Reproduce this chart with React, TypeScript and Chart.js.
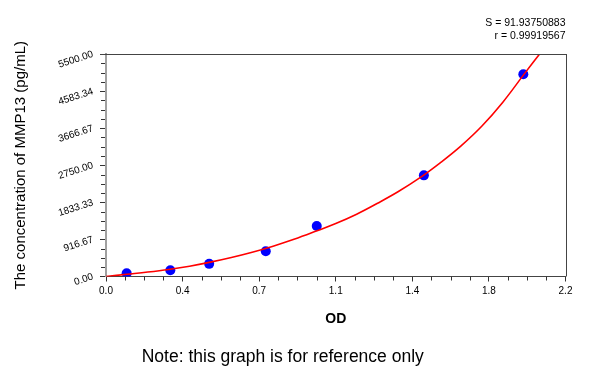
import React, { useEffect, useRef } from "react";
import { Chart, registerables } from "chart.js";

Chart.register(...registerables);

// Standard points (OD vs concentration)
const pointOD = [0.099, 0.308, 0.494, 0.765, 1.009, 1.522, 1.998];
const pointConc = [78.13, 156.25, 312.5, 625, 1250, 2500, 5000];

// Fitted curve
const curveOD = [0, 0.1, 0.2, 0.3, 0.4, 0.5, 0.6, 0.7, 0.8, 0.9, 1.0, 1.1, 1.2, 1.3, 1.4, 1.5, 1.6, 1.7, 1.8, 1.9, 2.0, 2.076];
const curveConc = [0, 55, 110, 175, 255, 355, 470, 600, 750, 920, 1110, 1310, 1540, 1810, 2100, 2430, 2810, 3230, 3720, 4310, 4990, 5500];

// Axis ticks
const xTickValues = [0, 0.36667, 0.73333, 1.1, 1.46667, 1.83333, 2.2];
const xTickLabels = ["0.0", "0.4", "0.7", "1.1", "1.4", "1.8", "2.2"];
const yTickValues = [0, 916.67, 1833.33, 2750, 3666.67, 4583.34, 5500];
const yTickLabels = ["0.00", "916.67", "1833.33", "2750.00", "3666.67", "4583.34", "5500.00"];

const statLines = ["S = 91.93750883", "r = 0.99919567"];
const xTitle = "OD";
const yTitle = "The concentration of MMP13 (pg/mL)";
const noteText = "Note: this graph is for reference only";

const FONT = '"Liberation Sans", Arial, Helvetica, sans-serif';

const framePlugin = {
  id: "frameMinor",
  afterDraw(chart: any) {
    const ctx = chart.ctx;
    const { left, right, top, bottom } = chart.chartArea;
    const xs = chart.scales.x;
    const ys = chart.scales.y;
    ctx.save();
    ctx.strokeStyle = "#444";
    ctx.lineWidth = 1;
    ctx.beginPath();
    ctx.moveTo(left - 6, Math.round(top) + 0.5);
    ctx.lineTo(right + 0.5, Math.round(top) + 0.5);
    ctx.moveTo(Math.round(right) + 0.5, top);
    ctx.lineTo(Math.round(right) + 0.5, bottom);
    ctx.stroke();
    ctx.strokeStyle = "#333";
    ctx.beginPath();
    for (let i = 0; i < yTickValues.length - 1; i++) {
      const a = yTickValues[i];
      const b = yTickValues[i + 1];
      for (let k = 1; k < 4; k++) {
        const py = Math.round(ys.getPixelForValue(a + ((b - a) * k) / 4)) + 0.5;
        ctx.moveTo(left - 5, py);
        ctx.lineTo(left - 1, py);
      }
    }
    for (let i = 0; i < xTickValues.length - 1; i++) {
      const a = xTickValues[i];
      const b = xTickValues[i + 1];
      for (let k = 1; k < 4; k++) {
        const px = Math.round(xs.getPixelForValue(a + ((b - a) * k) / 4)) + 0.5;
        ctx.moveTo(px, bottom);
        ctx.lineTo(px, bottom + 4);
      }
    }
    ctx.stroke();
    ctx.restore();
  },
};

export default function App() {
  const ref = useRef<HTMLCanvasElement | null>(null);

  useEffect(() => {
    if (!ref.current) return;
    Chart.defaults.font.family = FONT;
    Chart.defaults.color = "#000";
    const chart = new Chart(ref.current, {
      type: "scatter",
      data: {
        datasets: [
          {
            label: "curve",
            data: curveOD.map((x, i) => ({ x, y: curveConc[i] })),
            showLine: true,
            borderColor: "#ff0000",
            borderWidth: 1.6,
            pointRadius: 0,
            tension: 0.4,
            clip: 0,
          } as any,
          {
            label: "standards",
            data: pointOD.map((x, i) => ({ x, y: pointConc[i] })),
            backgroundColor: "#0000ff",
            borderWidth: 0,
            pointRadius: 5,
          },
        ],
      },
      options: {
        responsive: false,
        animation: false,
        devicePixelRatio: 1,
        layout: { padding: { left: 0, right: 34.5, top: 0, bottom: 0 } },
        plugins: {
          legend: { display: false },
          tooltip: { enabled: false },
          title: {
            display: true,
            text: statLines,
            align: "end",
            position: "top",
            color: "#000",
            font: { family: FONT, size: 10.5, weight: "normal", lineHeight: "13px" } as any,
            padding: { top: 16.5, bottom: 11.5 },
          },
          subtitle: {
            display: true,
            text: noteText,
            position: "bottom",
            align: "center",
            color: "#000",
            font: { family: FONT, size: 17.5, weight: "normal", lineHeight: 1.2 },
            padding: { top: 0, bottom: 8 },
          },
        },
        scales: {
          x: {
            type: "linear",
            min: 0,
            max: 2.2,
            afterBuildTicks: (s: any) => {
              s.ticks = xTickValues.map((v) => ({ value: v }));
            },
            afterFit: (s: any) => {
              s.height = 70.5;
            },
            ticks: {
              callback: (_v: any, i: number) => xTickLabels[i],
              font: { size: 10 },
              color: "#000",
              padding: 3.5,
              maxRotation: 0,
              minRotation: 0,
              autoSkip: false,
            },
            grid: {
              display: true,
              drawOnChartArea: false,
              drawTicks: true,
              tickLength: 5,
              color: "#333",
              tickColor: "#333",
            },
            border: { display: true, color: "#444", width: 1 },
            title: {
              display: true,
              text: xTitle,
              color: "#000",
              font: { size: 14, weight: "bold" },
              padding: { top: 0, bottom: 19.6 },
            },
          },
          y: {
            type: "linear",
            min: 0,
            max: 5500,
            afterBuildTicks: (s: any) => {
              s.ticks = yTickValues.map((v) => ({ value: v }));
            },
            afterFit: (s: any) => {
              s.width = 106;
            },
            ticks: {
              callback: (_v: any, i: number) => yTickLabels[i],
              font: { size: 10 },
              color: "#000",
              padding: 7,
              minRotation: 18,
              maxRotation: 18,
              autoSkip: false,
            },
            grid: {
              display: true,
              drawOnChartArea: false,
              drawTicks: true,
              tickLength: 6,
              color: "#333",
              tickColor: "#333",
            },
            border: { display: true, color: "#a0a0a0", width: 2 },
            title: {
              display: true,
              text: yTitle,
              color: "#000",
              font: { size: 15, weight: "normal" },
              padding: { top: 11.5, bottom: 0 },
            },
          },
        },
      } as any,
      plugins: [framePlugin],
    });
    return () => chart.destroy();
  }, []);

  return (
    <div style={{ position: "absolute", left: 0, top: 0, width: 600, height: 376, background: "#fff" }}>
      <canvas ref={ref} width={600} height={376} />
    </div>
  );
}
